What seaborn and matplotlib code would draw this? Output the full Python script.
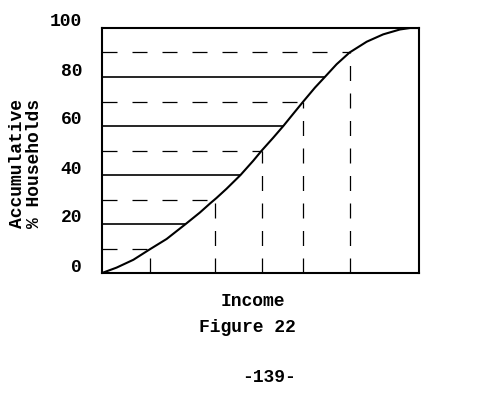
import matplotlib
matplotlib.use("Agg")
import matplotlib.pyplot as plt
import seaborn as sns
import pandas as pd

# Curve (income %, accumulative % households)
income = [0, 4.6, 9.9, 15.0, 20.4, 26.4, 30.9, 34.1, 36.1, 39.3, 43.7, 47.7,
          50.4, 54.0, 57.2, 60.4, 63.5, 67.2, 70.3, 74.0, 78.1, 83.5, 88.7,
          94.0, 97.2, 100]
households = [0, 2.2, 5.4, 9.6, 13.9, 20, 24.7, 28.4, 30.6, 34.4, 40, 45.8,
              50, 55.2, 60, 65.1, 70, 75.7, 80, 85.2, 90, 94.4, 97.4,
              99.4, 100, 100]

# Guide lines
solid_levels = [20, 40, 60, 80]
solid_x = [26.4, 43.7, 57.2, 70.3]
dashed_levels = [10, 30, 50, 70, 90]
dashed_x = [15.0, 35.8, 50.4, 63.5, 78.1]

ytick_values = [0, 20, 40, 60, 80, 100]
ytick_labels = ["0", "20", "40", "60", "80", "100"]

xlabel = "Income"
ylabel = "Accumulative\n% Households"
caption = "Figure 22"
page = "-139-"

sns.set_theme(style="white")
plt.rcParams["font.family"] = ["Liberation Mono", "DejaVu Sans Mono"]
FW = "bold"
FS = 13

fig = plt.figure(figsize=(4.8, 3.95), dpi=100)
ax = fig.add_axes([102 / 480, 1 - 273 / 395, 317 / 480, 245 / 395])

df = pd.DataFrame({"income": income, "households": households})
sns.lineplot(data=df, x="income", y="households", ax=ax, color="black",
             linewidth=1.5, sort=False, estimator=None)

ax.hlines(solid_levels, 0, solid_x, colors="black", linewidth=1.2)
ax.hlines(dashed_levels, 0, dashed_x, colors="black", linewidth=0.9,
          linestyles=(0, (12, 12)))
ax.vlines(dashed_x, 0, dashed_levels, colors="black", linewidth=0.9,
          linestyles=(0, (12, 10)))

ax.set_xlim(0, 100)
ax.set_ylim(0, 100)
ax.set_xticks([])
ax.set_yticks([])
for s in ax.spines.values():
    s.set_color("black")
    s.set_linewidth(1.5)
    s.set_visible(True)

for v, lab in zip(ytick_values, ytick_labels):
    ax.annotate(lab, xy=(0, v), xycoords=("axes fraction", "data"),
                xytext=(-20, 6), textcoords="offset pixels",
                ha="right", va="center", fontsize=FS, fontweight=FW,
                color="black", annotation_clip=False)

ax.set_xlabel(xlabel, fontsize=FS, fontweight=FW, color="black", va="center")
ax.xaxis.set_label_coords((253 - 102) / 317, (273 - 301) / 245)
ax.set_ylabel(ylabel, fontsize=FS, fontweight=FW, color="black", rotation=90,
              ha="center", va="center", rotation_mode="default",
              linespacing=1.05)
ax.yaxis.set_label_coords((26 - 102) / 317, (273 - 164) / 245)

fig.text(247 / 480, 1 - 328 / 395, caption, fontsize=FS, fontweight=FW,
         ha="center", va="center", color="black")
fig.text(269 / 480, 1 - 378 / 395, page, fontsize=FS, fontweight=FW,
         ha="center", va="center", color="black")

fig.savefig("out.png", dpi=100, facecolor="white")
